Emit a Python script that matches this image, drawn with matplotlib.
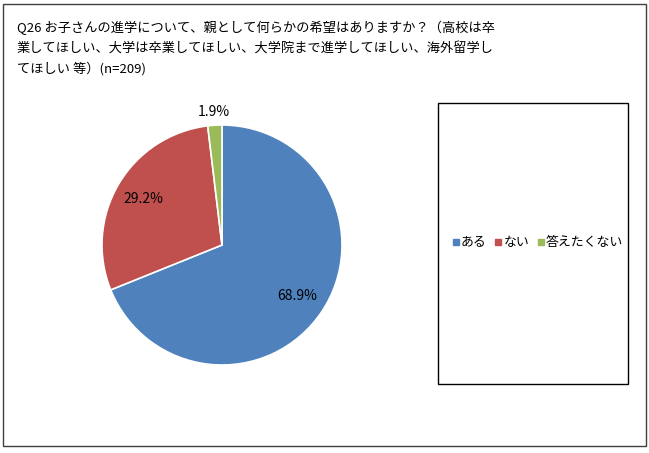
import matplotlib
matplotlib.use('Agg')
import matplotlib.pyplot as plt
from matplotlib.patches import Rectangle
from matplotlib.lines import Line2D

plt.rcParams['font.family'] = ['Noto Sans CJK JP', 'DejaVu Sans']

labels = ['ある', 'ない', '答えたくない']
values = [68.9, 29.2, 1.9]
colors = ['#4F81BD', '#C0504D', '#9BBB59']
title = ('Q26 お子さんの進学について、親として何らかの希望はありますか？（高校は卒\n'
         '業してほしい、大学は卒業してほしい、大学院まで進学してほしい、海外留学し\n'
         'てほしい 等）(n=209)')

W, H = 649, 453
fig = plt.figure(figsize=(W / 100, H / 100), dpi=100)

# outer frame
fig.patches.append(Rectangle((3 / W, 7 / H), 643 / W, 442 / H, transform=fig.transFigure,
                             fill=False, edgecolor='#404040', linewidth=1))

fig.text(17 / W, 1 - 21 / H, title, fontsize=9.5, va='top', ha='left',
         linespacing=1.65, color='#000000')

cx, cy, R = 222, 245, 120
ax = fig.add_axes([(cx - R) / W, 1 - (cy + R) / H, 2 * R / W, 2 * R / H])
wedges, texts, autotexts = ax.pie(values, colors=colors, startangle=90, counterclock=False,
                                  autopct='%1.1f%%', pctdistance=0.76,
                                  wedgeprops=dict(edgecolor='white', linewidth=1.2),
                                  textprops=dict(fontsize=10))
# small slice label sits outside
autotexts[2].set_position((-0.07, 1.11))
ax.set_xlim(-1, 1)
ax.set_ylim(-1, 1)
ax.set_aspect('equal')
ax.axis('off')

# legend box
fig.patches.append(Rectangle((438 / W, 1 - 384 / H), 190 / W, 281 / H, transform=fig.transFigure,
                             fill=False, edgecolor='#000000', linewidth=1))
handles = [Line2D([], [], marker='s', linestyle='none', markersize=5,
                  markerfacecolor=c, markeredgecolor=c) for c in colors]
fig.legend(handles, labels, loc='center', bbox_to_anchor=(537 / W, 1 - 243 / H), ncol=3,
           frameon=False, fontsize=9.3, handletextpad=0.0, columnspacing=0.5,
           handlelength=0.8, borderpad=0)

fig.savefig('out.png', dpi=100)
